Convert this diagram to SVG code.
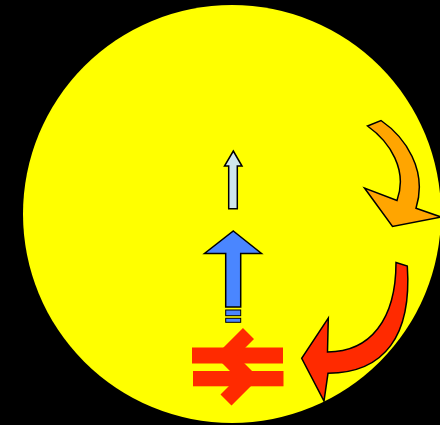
<svg xmlns="http://www.w3.org/2000/svg" width="440" height="425" viewBox="0 0 440 425">
<style>
.ol{stroke:#000;stroke-width:1.5;stroke-linejoin:miter}
.br{fill:#ff2a00}
</style>
<rect x="0" y="0" width="440" height="425" fill="#000"/>
<g id="disc"><circle cx="232" cy="214" r="209" fill="#ffff00"/></g>
<g id="small-arrow"><polygon class="ol" fill="#cfe6ec" points="233.3,151 242,166 237.3,166 237.3,208.7 228.7,208.7 228.7,166 224.5,166"/></g>
<g id="blue-arrow">
<polygon class="ol" fill="#4a86ff" points="233.3,231 261.5,253.5 240.7,253.5 240.7,307 225.7,307 225.7,253.5 204.5,253.5"/>
<rect x="225.7" y="310" width="15" height="5.7" fill="#4a86ff" stroke="#000" stroke-width="1"/>
<rect x="225.7" y="318.3" width="15" height="4" fill="#4a86ff" stroke="#000" stroke-width="1"/>
</g>
<g id="rail-symbol">
<rect class="br" x="192" y="347.5" width="91" height="16"/>
<rect class="br" x="193" y="371" width="90.5" height="15.3"/>
<polyline points="248.5,333.5 226,356 248,378 226,400" fill="none" stroke="#ff2a00" stroke-width="15.6" stroke-linejoin="miter" stroke-miterlimit="10"/>
</g>
<g id="orange-arrow"><path class="ol" fill="#ffa500" d="M367.5,126 L381,120.5 C405,137 428,170 416,208.3 L441,217 L392.5,226.5 L364.5,188 L397,200.5 C408,170 390,142 367.5,126 Z"/></g>
<g id="red-arrow"><path class="ol" fill="#ff2a00" d="M396,262.5 L407.3,266 C412,335 385,373 328,373.3 L324,401 L301.7,358.3 L328.3,318 L327.5,352 C370,352 396,320 396,262.5 Z"/></g>
</svg>
